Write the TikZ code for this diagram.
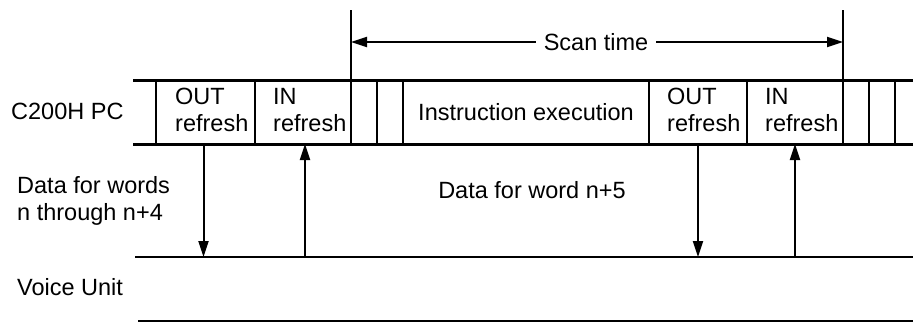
\documentclass[tikz,border=0pt]{standalone}
\usepackage{fontspec}
\setmainfont{Liberation Sans}
\usetikzlibrary{arrows.meta,positioning}

\begin{document}
\begin{tikzpicture}[x=1pt, y=-1pt, >={Triangle[length=16pt,width=10pt]},
    font=\fontsize{23.5}{27}\selectfont,
    cell/.style={draw, line width=2.4pt, minimum height=64pt, inner sep=0pt, outer sep=0pt},
    celltext/.style={anchor=north west, align=left, inner sep=0pt},
    trace/.style={line width=2pt}]
    \useasboundingbox (0,0) rectangle (913,322);

    \coordinate (bt1) at (133,80);
    \coordinate (bt2) at (913,80);
    \coordinate (bb1) at (133,144);
    \coordinate (bb2) at (913,144);
    \coordinate (st1) at (351,10);
    \coordinate (st2) at (843,10);
    \coordinate (vu1) at (135,257);
    \coordinate (vu2) at (913,257);
    \coordinate (vb1) at (138,321);
    \coordinate (vb2) at (913,321);

    % PC cycle
    \node[cell, minimum width=99pt, anchor=west] (out1) at (156,112) {};
    \node[cell, minimum width=96pt, right=0pt of out1] (in1) {};
    \node[cell, minimum width=26pt, right=0pt of in1] (g1) {};
    \node[cell, minimum width=26pt, right=0pt of g1] (g2) {};
    \node[cell, minimum width=246pt, right=0pt of g2] (exec) {Instruction execution};
    \node[cell, minimum width=98pt, right=0pt of exec] (out2) {};
    \node[cell, minimum width=96pt, right=0pt of out2] (in2) {};
    \node[cell, minimum width=26pt, right=0pt of in2] (g3) {};
    \node[cell, minimum width=26pt, line width=1.6pt, right=0pt of g3] (g4) {};
    \draw[line width=3pt] (bt1) -- (bt2);
    \draw[line width=3pt] (bb1) -- (bb2);

    \node[celltext] (out1t) at ([xshift=19pt,yshift=-8pt]out1.north west) {OUT\\refresh};
    \node[celltext] (in1t) at ([xshift=18pt,yshift=-8pt]in1.north west) {IN\\refresh};
    \node[celltext] (out2t) at ([xshift=18pt,yshift=-8pt]out2.north west) {OUT\\refresh};
    \node[celltext] (in2t) at ([xshift=18pt,yshift=-8pt]in2.north west) {IN\\refresh};

    % Scan time
    \node[inner xsep=8pt, inner ysep=0pt] (scan) at (596,42) {Scan time};
    \draw[trace] (st1) -- (g1.north west);
    \draw[trace] (st2) -- (g3.north west);
    \draw[trace,->] (scan.west) -- (scan.west -| st1);
    \draw[trace,->] (scan.east) -- (scan.east -| st2);

    % Voice Unit
    \draw[trace] (vu1) -- (vu2);
    \draw[trace] (vb1) -- (vb2);
    \draw[trace,->] ([xshift=-2pt]out1.south) -- ([xshift=-2pt]out1.south |- vu1);
    \draw[trace,->] ([xshift=2pt]in1.south |- vu1) -- ([xshift=2pt]in1.south);
    \draw[trace,->] (out2.south) -- (out2.south |- vu1);
    \draw[trace,->] (in2.south |- vu1) -- (in2.south);

    \node[anchor=base west, inner sep=0pt] (pc) at (11,119) {C200H PC};
    \node[anchor=north west, align=left, inner sep=0pt] (dw) at (17,176) {Data for words\\n through n+4};
    \node[anchor=base, inner sep=0pt] (dn5) at (532,198) {Data for word n+5};
    \node[anchor=base west, inner sep=0pt] (vu) at (17,295) {Voice Unit};
\end{tikzpicture}
\end{document}
